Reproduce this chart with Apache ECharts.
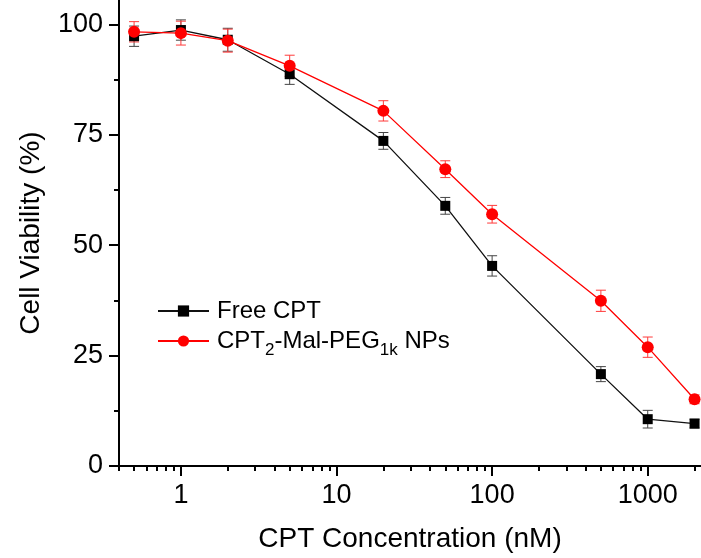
<!DOCTYPE html>
<html>
<head>
<meta charset="utf-8">
<script src="https://cdn.jsdelivr.net/npm/echarts@6/dist/echarts.min.js"></script>
<style>
  html, body { margin: 0; padding: 0; background: #fff; }
  #chart { width: 701px; height: 558px; }
</style>
</head>
<body>
<div id="chart"></div>
<script>
// CPT concentration (nM)
const concentrations = [0.5, 1, 2, 5, 20, 50, 100, 500, 1000, 2000];
// cell viability (%) and error bars
const freeCPT = [97.3, 98.7, 96.5, 88.7, 73.6, 58.9, 45.3, 20.8, 10.6, 9.6];
const freeCPTErr = [2.3, 2.3, 2.6, 2.3, 1.9, 1.9, 2.3, 1.7, 2.0, 1.0];
const nps = [98.3, 98.0, 96.3, 90.6, 80.4, 67.2, 57.0, 37.4, 26.9, 15.1];
const npsErr = [2.3, 2.7, 2.6, 2.4, 2.3, 1.9, 2.0, 2.4, 2.3, 1.0];

const xMajorTicks = [1, 10, 100, 1000];
const xMinorTicks = [0.4, 0.5, 0.6, 0.7, 0.8, 0.9, 2, 3, 4, 5, 6, 7, 8, 9,
  20, 30, 40, 50, 60, 70, 80, 90, 200, 300, 400, 500, 600, 700, 800, 900, 2000];
const yMajorTicks = [0, 25, 50, 75, 100];
const yMinorTicks = [12.5, 37.5, 62.5, 87.5];

const FONT = 'Liberation Sans, Arial, sans-serif';
const chart = echarts.init(document.getElementById('chart'));

const pairs = vals => concentrations.map((c, i) => [c, vals[i]]);
const errData = (vals, errs) => concentrations.map((c, i) => [c, vals[i] - errs[i], vals[i] + errs[i]]);

function errorBar(color) {
  return function (params, api) {
    const x = api.value(0);
    const lo = api.coord([x, api.value(1)]);
    const hi = api.coord([x, api.value(2)]);
    const w = 5;
    const style = { stroke: color, lineWidth: 1 };
    return {
      type: 'group',
      children: [
        { type: 'line', shape: { x1: lo[0], y1: lo[1], x2: hi[0], y2: hi[1] }, style },
        { type: 'line', shape: { x1: lo[0] - w, y1: lo[1], x2: lo[0] + w, y2: lo[1] }, style },
        { type: 'line', shape: { x1: hi[0] - w, y1: hi[1], x2: hi[0] + w, y2: hi[1] }, style }
      ]
    };
  };
}

const xBase = {
  type: 'log',
  logBase: 10,
  min: 0.4,
  max: 2200,
  position: 'bottom',
  splitLine: { show: false }
};
const yBase = {
  type: 'value',
  min: 0,
  max: 105.5,
  position: 'left',
  splitLine: { show: false }
};

chart.setOption({
  animation: false,
  grid: { left: 119, right: -3, top: 0, bottom: 91 },
  legend: {
    orient: 'vertical',
    left: 157,
    top: 299,
    padding: 0,
    itemWidth: 51,
    itemHeight: 14,
    itemGap: 6,
    textStyle: {
      fontFamily: FONT,
      fontSize: 24,
      color: '#000',
      padding: [0, 0, 0, 3],
      rich: {
        n: { fontFamily: FONT, fontSize: 24, color: '#000' },
        s: { fontFamily: FONT, fontSize: 17, color: '#000', verticalAlign: 'bottom', padding: [19, 0, 0, 0] }
      }
    },
    formatter: name => name === 'Free CPT'
      ? '{n|Free CPT}'
      : '{n|CPT}{s|2}{n|-Mal-PEG}{s|1k}{n| NPs}',
    data: ['Free CPT', 'CPT2-Mal-PEG1k NPs']
  },
  xAxis: [
    Object.assign({}, xBase, {
      name: 'CPT Concentration (nM)',
      nameLocation: 'middle',
      nameGap: 59,
      nameTextStyle: { fontFamily: FONT, fontSize: 28, color: '#000' },
      axisLine: { show: true, onZero: false, lineStyle: { color: '#000', width: 2 } },
      axisTick: { length: 10, lineStyle: { color: '#000', width: 2 }, customValues: xMajorTicks },
      axisLabel: {
        fontFamily: FONT, fontSize: 27, color: '#000', margin: 16,
        customValues: xMajorTicks,
        formatter: v => String(Math.round(v))
      }
    }),
    Object.assign({}, xBase, {
      axisLine: { show: false, onZero: false },
      axisTick: { length: 5, lineStyle: { color: '#000', width: 2 }, customValues: xMinorTicks },
      axisLabel: { show: false }
    })
  ],
  yAxis: [
    Object.assign({}, yBase, {
      name: 'Cell Viability (%)',
      nameLocation: 'middle',
      nameGap: 74,
      nameTextStyle: { fontFamily: FONT, fontSize: 28, color: '#000' },
      axisLine: { show: true, onZero: false, lineStyle: { color: '#000', width: 2 } },
      axisTick: { length: 10, lineStyle: { color: '#000', width: 2 }, customValues: yMajorTicks },
      axisLabel: { fontFamily: FONT, fontSize: 27, color: '#000', margin: 16, customValues: yMajorTicks }
    }),
    Object.assign({}, yBase, {
      axisLine: { show: false, onZero: false },
      axisTick: { length: 5, lineStyle: { color: '#000', width: 2 }, customValues: yMinorTicks },
      axisLabel: { show: false }
    })
  ],
  series: [
    {
      type: 'custom',
      renderItem: errorBar('#444'),
      data: errData(freeCPT, freeCPTErr),
      encode: { x: 0, y: [1, 2] },
      z: 1,
      silent: true
    },
    {
      type: 'custom',
      renderItem: errorBar('#ff3a3a'),
      data: errData(nps, npsErr),
      encode: { x: 0, y: [1, 2] },
      z: 1,
      silent: true
    },
    {
      name: 'Free CPT',
      type: 'line',
      data: pairs(freeCPT),
      symbol: 'rect',
      symbolSize: 10,
      itemStyle: { color: '#000' },
      lineStyle: { color: '#111', width: 1.3 },
      z: 3
    },
    {
      name: 'CPT2-Mal-PEG1k NPs',
      type: 'line',
      data: pairs(nps),
      symbol: 'circle',
      symbolSize: 12,
      itemStyle: { color: '#ff0000' },
      lineStyle: { color: '#ff0000', width: 1.3 },
      z: 4
    }
  ]
});
</script>
</body>
</html>
